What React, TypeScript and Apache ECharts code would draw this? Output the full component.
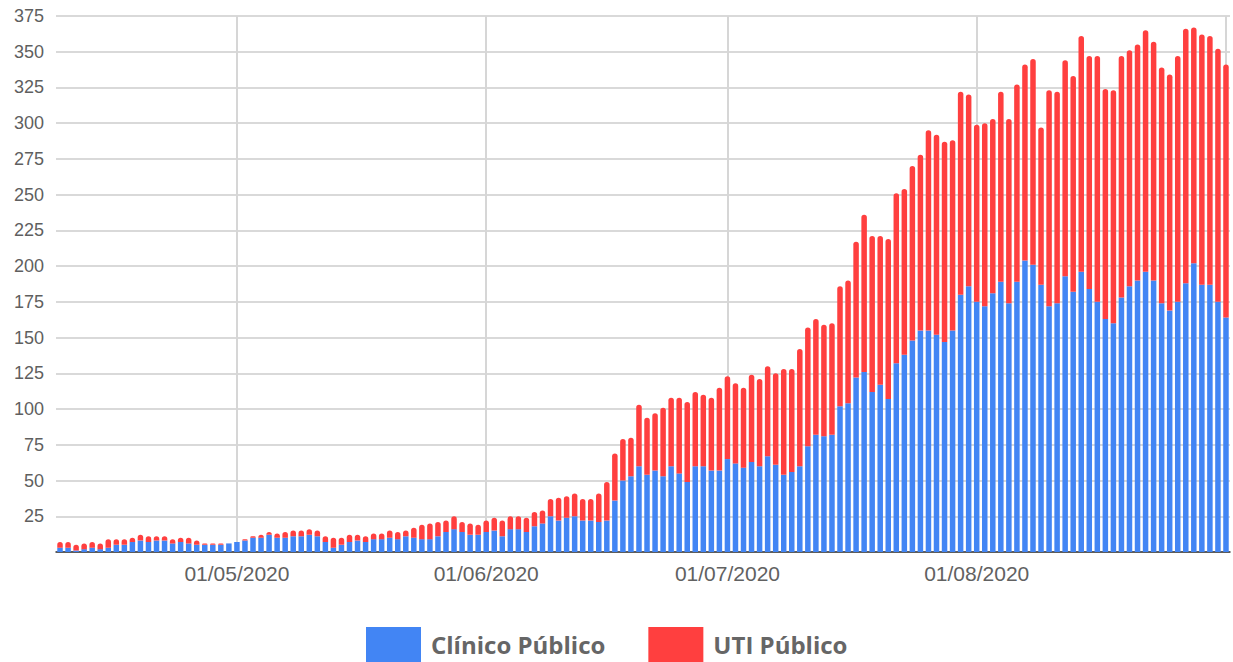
import React, { useEffect, useRef } from "react";
import * as echarts from "echarts";

// Daily series from 09/04/2020 to 01/09/2020
const START_DAY = { year: 2020, month: 4, day: 9 };
const DAY_COUNT = 146;

const clinicoPublico: number[] = [
  3, 3, 1, 2, 3, 2, 3, 5, 5, 7,
  8, 7, 8, 8, 6, 7, 6, 5, 5, 5,
  5, 6, 7, 8, 10, 10, 12, 10, 10, 11,
  11, 12, 11, 7, 3, 5, 7, 8, 7, 9,
  9, 10, 9, 11, 10, 9, 9, 11, 14, 16,
  14, 12, 12, 14, 15, 11, 16, 16, 14, 18,
  20, 25, 22, 24, 25, 22, 22, 21, 22, 36,
  50, 53, 60, 54, 57, 53, 60, 55, 49, 60,
  60, 57, 57, 65, 62, 59, 63, 60, 67, 61,
  54, 56, 60, 74, 82, 81, 82, 102, 104, 122,
  126, 112, 117, 107, 132, 138, 148, 155, 155, 152,
  147, 155, 180, 186, 175, 172, 181, 189, 174, 189,
  204, 201, 187, 172, 174, 193, 182, 196, 184, 175,
  163, 160, 178, 186, 190, 196, 190, 174, 169, 175,
  188, 202, 187, 187, 175, 164,
];

const utiPublico: number[] = [
  4, 4, 4, 4, 4, 4, 6, 4, 4, 3,
  4, 4, 3, 3, 3, 3, 4, 3, 1, 1,
  1, 0, 0, 1, 1, 2, 2, 3, 4, 4,
  4, 4, 4, 4, 7, 5, 5, 4, 4, 4,
  4, 5, 5, 4, 7, 10, 11, 10, 8, 9,
  7, 8, 7, 8, 9, 11, 9, 9, 10, 10,
  9, 12, 16, 15, 16, 15, 15, 20, 27, 33,
  29, 27, 43, 40, 40, 48, 48, 53, 56, 52,
  50, 51, 58, 58, 56, 56, 61, 61, 63, 64,
  74, 72, 82, 83, 81, 78, 78, 84, 86, 95,
  110, 109, 104, 112, 119, 116, 122, 123, 140, 140,
  140, 133, 142, 134, 124, 128, 122, 133, 129, 138,
  137, 144, 110, 151, 148, 151, 151, 165, 163, 172,
  161, 163, 169, 165, 165, 169, 167, 165, 165, 172,
  178, 165, 175, 174, 177, 177,
];

const xTickLabels: string[] = ["01/05/2020", "01/06/2020", "01/07/2020", "01/08/2020"];
const monthGridDates: string[] = ["01/05/2020", "01/06/2020", "01/07/2020", "01/08/2020", "01/09/2020"];

const Y_MIN = 0;
const Y_MAX = 375;
const Y_STEP = 25;

const SERIES_NAMES = ["Clínico Público", "UTI Público"];
const COLORS = ["#4285F4", "#FF3F3F"];

function pad(n: number): string {
  return n < 10 ? "0" + n : String(n);
}

function buildCategories(): string[] {
  const base = Date.UTC(START_DAY.year, START_DAY.month - 1, START_DAY.day);
  const out: string[] = [];
  for (let i = 0; i < DAY_COUNT; i++) {
    const d = new Date(base + i * 86400000);
    out.push(pad(d.getUTCDate()) + "/" + pad(d.getUTCMonth() + 1) + "/" + d.getUTCFullYear());
  }
  return out;
}

export default function App() {
  const ref = useRef<HTMLDivElement>(null);

  useEffect(() => {
    if (!ref.current) return;
    const chart = echarts.init(ref.current, undefined, { renderer: "svg" });
    const categories = buildCategories();
    const axisFont = "'Liberation Sans', Arial, sans-serif";

    chart.setOption({
      animation: false,
      backgroundColor: "#ffffff",
      grid: { left: 56, right: 3, top: 16, bottom: 110, containLabel: false },
      legend: {
        data: SERIES_NAMES,
        left: 366,
        bottom: 0,
        padding: 0,
        itemWidth: 55,
        itemHeight: 35,
        itemGap: 43,
        icon: "rect",
        selectedMode: false,
        textStyle: {
          fontFamily: "'Open Sans', sans-serif",
          fontWeight: "bold",
          fontSize: 24,
          color: "#666666",
          padding: [0, 0, 0, 5],
        },
      },
      xAxis: {
        type: "category",
        data: categories,
        boundaryGap: true,
        axisTick: { show: false },
        axisLine: { show: true, lineStyle: { color: "#333333", width: 1.5 } },
        splitLine: { show: false },
        axisLabel: {
          interval: (_idx: number, value: string) => xTickLabels.indexOf(value) >= 0,
          fontFamily: axisFont,
          fontSize: 21,
          color: "#616161",
          margin: 11,
        },
      },
      yAxis: {
        type: "value",
        min: Y_MIN,
        max: Y_MAX,
        interval: Y_STEP,
        axisLine: { show: false },
        axisTick: { show: false },
        axisLabel: {
          formatter: (v: number) => (v === 0 ? "" : String(v)),
          fontFamily: axisFont,
          fontSize: 18,
          color: "#5f5f5f",
          margin: 12,
        },
        splitLine: { show: true, lineStyle: { color: "#d9d9d9", width: 2 } },
      },
      series: [
        {
          name: SERIES_NAMES[0],
          type: "bar",
          stack: "total",
          data: clinicoPublico,
          barWidth: 5.5,
          itemStyle: { color: COLORS[0] },
          markLine: {
            z: 1,
            silent: true,
            symbol: ["none", "none"],
            label: { show: false },
            lineStyle: { color: "#d6d6d6", width: 2, type: "solid" },
            emphasis: { disabled: true },
            data: monthGridDates.map((d) => ({ xAxis: d })),
          },
        },
        {
          name: SERIES_NAMES[1],
          type: "bar",
          stack: "total",
          data: utiPublico,
          barWidth: 5.5,
          itemStyle: { color: COLORS[1], borderRadius: [3, 3, 0, 0] },
        },
      ],
    });

    return () => {
      chart.dispose();
    };
  }, []);

  return (
    <div
      ref={ref}
      style={{ position: "fixed", left: 0, top: 0, width: 1233, height: 662, background: "#fff" }}
    />
  );
}
